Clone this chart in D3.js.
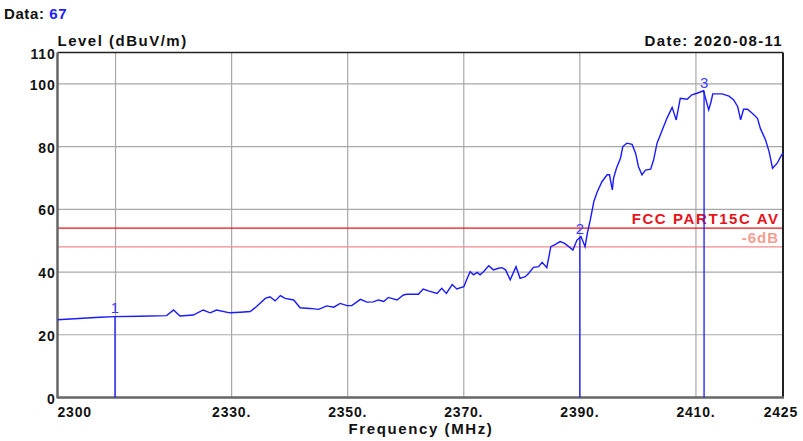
<!DOCTYPE html>
<html><head><meta charset="utf-8">
<script src="https://cdn.jsdelivr.net/npm/d3@7"></script>
<style>body{margin:0;background:#fff}svg{display:block;font-family:"Liberation Sans",Arial,sans-serif}</style>
</head><body><svg id="c" width="803" height="441"></svg>
<script>
const freq = [2300,2307.3,2309.9,2314.2,2318.8,2320.0,2321.1,2323.4,2325.1,2326.3,2327.4,2329.7,2331.5,2333.2,2334.3,2335.8,2336.6,2337.5,2338.4,2339.2,2340.7,2341.8,2343.5,2345.0,2346.4,2347.6,2348.7,2349.9,2350.7,2352.2,2353.3,2354.4,2355.3,2356.2,2357.0,2358.5,2359.6,2360.2,2362.2,2363.0,2363.9,2365.4,2366.2,2367.0,2368.0,2368.8,2370.0,2370.6,2371.1,2371.7,2372.3,2372.8,2373.4,2374.3,2375.1,2376.0,2376.6,2377.2,2378.0,2379.0,2379.7,2380.6,2381.2,2382.0,2382.9,2383.5,2384.3,2385.0,2385.8,2386.6,2387.3,2388.1,2388.8,2389.5,2390.2,2390.9,2391.3,2391.8,2392.4,2393.0,2393.8,2394.7,2395.1,2395.6,2395.8,2396.3,2397.0,2397.4,2398.1,2399.0,2399.6,2400.1,2400.7,2401.3,2402.2,2402.7,2403.3,2404.2,2405.0,2405.9,2406.6,2407.3,2408.5,2409.3,2410.2,2411.3,2412.2,2412.6,2412.9,2414.5,2415.7,2416.5,2417.2,2417.7,2418.2,2418.9,2419.7,2420.6,2421.1,2422.0,2422.6,2423.2,2424.0,2424.6,2425.0];
const level = [24.8,25.6,25.8,25.9,26.1,27.9,26.0,26.3,27.9,27.0,27.9,27.0,27.2,27.4,29.0,31.6,32.1,30.8,32.5,31.6,31.1,28.6,28.4,28.1,29.2,28.8,30.0,29.3,29.3,31.3,30.4,30.5,31.1,30.6,31.9,31.1,32.7,32.9,32.9,34.6,34.0,33.2,34.8,33.2,36.0,34.6,35.3,38.0,40.1,39.1,39.9,39.1,40.1,42.0,40.7,41.2,41.4,40.7,37.5,41.7,38.0,38.5,39.6,41.5,41.7,43.1,41.4,48.1,48.8,49.7,49.2,48.1,47.0,50.2,51.3,48.1,52.5,56.6,62.4,65.6,68.8,71.0,71.0,66.2,69.9,73.1,76.3,80.0,81.1,80.7,77.9,73.6,71.0,72.5,72.8,75.7,81.1,85.3,89.0,92.5,88.5,95.4,95.1,96.5,97.0,97.8,91.7,94.3,96.8,96.8,96.1,94.9,92.7,88.5,91.9,91.9,90.6,89.0,85.8,82.1,78.4,73.1,74.7,76.8,78.0];
const markerNames = ["1","2","3"];
const markerFreq = [2309.9,2390.0,2411.4];
const markerLevel = [25.9,51.3,97.8];
const limitNames = ["FCC PART15C AV","-6dB"];
const limitLevel = [54,48];
const xTickVals = [2300,2330,2350,2370,2390,2410,2425];
const xTickLabels = ["2300","2330.","2350.","2370.","2390.","2410.","2425"];
const xGridVals = [2310,2330,2350,2370,2390,2410];
const yTickVals = [0,20,40,60,80,100,110];
const yGridVals = [20,40,60,80,100];

const svg = d3.select("#c");
const L=57.5,R=783,T=52.5,B=397.5;
const x = d3.scaleLinear().domain([2300,2425]).range([L,R]);
const y = d3.scaleLinear().domain([0,110]).range([B,T]);

// grid
svg.append("g").selectAll("line").data(yGridVals).join("line")
  .attr("x1",L).attr("x2",R).attr("y1",d=>y(d)).attr("y2",d=>y(d))
  .attr("stroke","#a8a8a8").attr("stroke-width",1.2);
svg.append("g").selectAll("line").data(xGridVals).join("line")
  .attr("y1",T).attr("y2",B).attr("x1",d=>x(d)).attr("x2",d=>x(d))
  .attr("stroke","#a8a8a8").attr("stroke-width",1.2);

// limit lines
const limColors=["#e8141c","#f08c8c"];
const limText=["#e8141c","#f49c90"];
const limSpacing=[1.6,1.0];
svg.append("g").selectAll("line").data(limitLevel).join("line")
  .attr("x1",L).attr("x2",R).attr("y1",d=>y(d)).attr("y2",d=>y(d))
  .attr("stroke",(d,i)=>limColors[i]).attr("stroke-width",1.2);
svg.append("g").selectAll("text").data(limitNames).join("text")
  .attr("x",(d,i)=>R-5+limSpacing[i]).attr("y",(d,i)=>y(limitLevel[i])-4)
  .attr("text-anchor","end").attr("font-weight","bold").attr("font-size",15)
  .attr("letter-spacing",(d,i)=>limSpacing[i])
  .attr("fill",(d,i)=>limText[i]).text(d=>d);

// frame
svg.append("line").attr("x1",L).attr("x2",R).attr("y1",T).attr("y2",T).attr("stroke","#222").attr("stroke-width",1.5);
svg.append("line").attr("x1",R).attr("x2",R).attr("y1",T).attr("y2",B).attr("stroke","#222").attr("stroke-width",2);
svg.append("line").attr("x1",L).attr("x2",L).attr("y1",T).attr("y2",B+1).attr("stroke","#666").attr("stroke-width",2.5);
svg.append("line").attr("x1",L).attr("x2",R+1).attr("y1",B).attr("y2",B).attr("stroke","#666").attr("stroke-width",2.5);

// curve
const pts = freq.map((f,i)=>[f,level[i]]);
svg.append("path").datum(pts)
  .attr("d",d3.line().x(d=>x(d[0])).y(d=>y(d[1])))
  .attr("fill","none").attr("stroke","#1a1aff").attr("stroke-width",1.4);

// markers
svg.append("g").selectAll("line").data(markerFreq).join("line")
  .attr("x1",d=>x(d)).attr("x2",d=>x(d)).attr("y1",(d,i)=>y(markerLevel[i])).attr("y2",B)
  .attr("stroke","#1a1aff").attr("stroke-width",1.3);
svg.append("g").selectAll("text").data(markerNames).join("text")
  .attr("x",(d,i)=>x(markerFreq[i])).attr("y",(d,i)=>y(markerLevel[i])-3)
  .attr("text-anchor","middle").attr("font-size",15).attr("fill","#3a3aff").text(d=>d);

// axis labels
svg.append("g").selectAll("text").data(yTickVals).join("text")
  .attr("x",L-2).attr("y",d=>y(d)+6).attr("text-anchor","end").attr("letter-spacing",0.8)
  .attr("font-weight","bold").attr("font-size",14).attr("fill","#111").text(d=>d);
svg.append("g").selectAll("text").data(xTickVals).join("text")
  .attr("x",(d,i)=> i===0 ? x(d) : (i===xTickVals.length-1 ? x(d)+15 : x(d)))
  .attr("y",B+19).attr("letter-spacing",0.8)
  .attr("text-anchor",(d,i)=> i===0 ? "start" : (i===xTickVals.length-1 ? "end" : "middle"))
  .attr("font-weight","bold").attr("font-size",14).attr("fill","#111").text((d,i)=>xTickLabels[i]);

// titles
const t1 = svg.append("text").attr("x",4).attr("y",19).attr("font-weight","bold").attr("font-size",15).attr("letter-spacing",0.6).attr("fill","#111");
t1.append("tspan").text("Data: ");
t1.append("tspan").attr("fill","#2020ff").text("67");
svg.append("text").attr("x",L).attr("y",46).attr("font-weight","bold").attr("font-size",15).attr("letter-spacing",1.5).attr("fill","#111").text("Level (dBuV/m)");
svg.append("text").attr("x",R).attr("y",46).attr("text-anchor","end").attr("font-weight","bold").attr("font-size",15).attr("letter-spacing",1.3).attr("fill","#111").text("Date: 2020-08-11");
svg.append("text").attr("x",421).attr("y",434).attr("text-anchor","middle").attr("font-weight","bold").attr("font-size",15).attr("letter-spacing",1.6).attr("fill","#111").text("Frequency (MHz)");
</script></body></html>
